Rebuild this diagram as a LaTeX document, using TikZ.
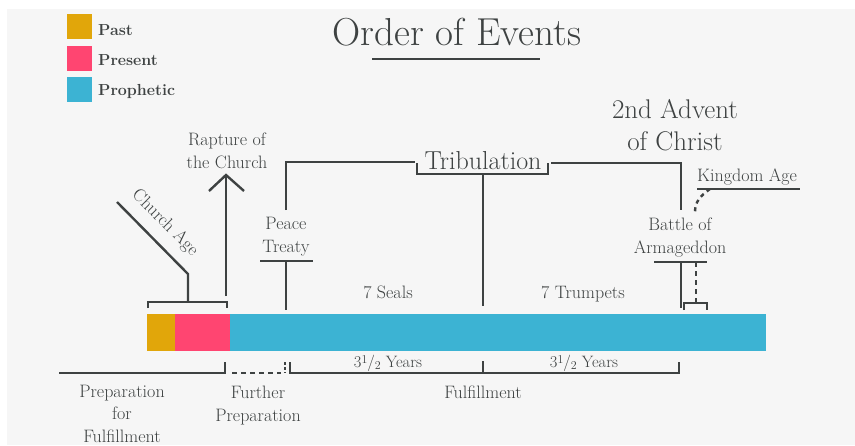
\documentclass[tikz,border=0pt]{standalone}
\usepackage{fontspec}
\usetikzlibrary{positioning}
\definecolor{pastcol}{HTML}{E1A60A}
\definecolor{presentcol}{HTML}{FF4571}
\definecolor{prophcol}{HTML}{3CB3D3}
\definecolor{inkcol}{HTML}{3E4242}
\definecolor{bgcol}{HTML}{F6F6F6}
\tikzset{
  seg/.style={line width=2.4pt, draw=inkcol},
  dseg/.style={seg, dash pattern=on 5pt off 4pt},
  lbl/.style={text=inkcol, font=\fontsize{18}{22.5}\selectfont, align=center, inner sep=0pt},
  keylbl/.style={text=inkcol, font=\fontsize{16}{18}\selectfont\bfseries, inner sep=0pt, anchor=base west},
  biglbl/.style={lbl, font=\fontsize{27}{32}\selectfont},
  keybox/.style={minimum size=25pt, inner sep=0pt, anchor=north west},
}
\newcommand{\halfyr}{3\raisebox{0.55ex}{\fontsize{12}{12}\selectfont 1}/\raisebox{-0.35ex}{\fontsize{12}{12}\selectfont 2} Years}
\begin{document}
\begin{tikzpicture}[x=1pt,y=-1pt]
  \useasboundingbox (0,0) rectangle (855,445);
  \fill[white] (0,0) rectangle (855,445);
  \fill[bgcol] (7,9) rectangle (855,445);

  % Legend
  \node[keybox, fill=pastcol] (kpast) at (67,14) {};
  \node[keybox, fill=presentcol] (kpres) at (67,46) {};
  \node[keybox, fill=prophcol] (kproph) at (67,77) {};
  \node[keylbl] (tpast) at (98,35) {Past};
  \node[keylbl] (tpres) at (98,65) {Present};
  \node[keylbl] (tproph) at (98,95) {Prophetic};

  % Title
  \node[lbl, font=\fontsize{39}{44}\selectfont, anchor=base] (title) at (457,45) {Order of Events};
  \draw[line width=1.6pt, draw=inkcol] (372,59) -- (540,59);

  % Time bar
  \fill[pastcol] (147,314) rectangle (175,351);
  \fill[presentcol] (175,314) rectangle (230,351);
  \fill[prophcol] (230,314) rectangle (766,351);

  % Church Age
  \coordinate (ca1) at (148,308);
  \coordinate (ca2) at (227,308);
  \coordinate (cam) at (188,302);
  \coordinate (cak) at (188,274);
  \coordinate (cae) at (117,202);
  \draw[seg] (ca1) |- (cam) -| (ca2);
  \draw[seg] (cam) -- (cak) -- (cae);
  \node[lbl, rotate=-45] (church) at (165,223) {Church Age};

  % Rapture of the Church
  \coordinate (rap0) at (226,296);
  \coordinate (rap1) at (226,175);
  \draw[seg] (rap0) -- (rap1);
  \draw[seg] (209,191) -- (rap1) -- (244,191);
  \node[lbl, anchor=base] (rapture) at (227,168) {Rapture of\\the Church};

  % Peace Treaty
  \node[lbl, anchor=base] (peace) at (286,252) {Peace\\Treaty};
  \coordinate (pt0) at (286,210);
  \coordinate (pt1) at (415,162);
  \coordinate (ptl) at (260,261);
  \coordinate (ptr) at (313,261);
  \coordinate (ptm) at (286,261);
  \coordinate (ptb) at (286,310);
  \draw[seg] (pt0) |- (pt1);
  \draw[seg] (ptl) -- (ptr);
  \draw[seg] (ptm) -- (ptb);

  % Tribulation
  \node[biglbl, font=\fontsize{26}{30}\selectfont, anchor=base] (trib) at (483,169) {Tribulation};
  \coordinate (tb1) at (417,163);
  \coordinate (tb2) at (548,163);
  \coordinate (tbm) at (483,174);
  \coordinate (tbb) at (483,306);
  \coordinate (tr0) at (551,163);
  \coordinate (tr1) at (681,210);
  \draw[seg] (tb1) |- (tbm) -| (tb2);
  \draw[seg] (tbm) -- (tbb);
  \draw[seg] (tr0) -| (tr1);

  % 2nd Advent of Christ
  \node[biglbl, anchor=base] (advent) at (675,150) {2nd Advent\\of Christ};

  % Kingdom Age
  \node[lbl, anchor=base west] (kingdom) at (697,181) {Kingdom Age};
  \coordinate (kg0) at (697,189);
  \coordinate (kg1) at (800,189);
  \coordinate (kgc) at (710,189);
  \coordinate (kgd) at (695,212);
  \draw[seg] (kg0) -- (kg1);
  \draw[dseg, dash pattern=on 4pt off 4pt] (kgc) .. controls (700,196) and (695,202) .. (kgd);

  % Battle of Armageddon
  \node[lbl, anchor=base] (battle) at (680,253) {Battle of\\Armageddon};
  \coordinate (ba0) at (654,262);
  \coordinate (ba1) at (707,262);
  \coordinate (bam) at (681,262);
  \coordinate (bab) at (681,308);
  \coordinate (bad) at (696,262);
  \coordinate (bdb) at (696,303);
  \coordinate (bk1) at (684,310);
  \coordinate (bk2) at (707,310);
  \draw[seg] (ba0) -- (ba1);
  \draw[seg] (bam) -- (bab);
  \draw[dseg] (bad) -- (bdb);
  \draw[seg, line width=2pt] (bk1) |- (bdb) -| (bk2);

  % Seals and Trumpets
  \node[lbl, anchor=base] (seals) at (388,298) {7 Seals};
  \node[lbl, anchor=base] (trumpets) at (583,298) {7 Trumpets};

  % Below the bar
  \coordinate (pf0) at (59,373);
  \coordinate (pf1) at (225,362);
  \draw[seg] (pf0) -| (pf1);
  \coordinate (fp0) at (232,373);
  \coordinate (fp1) at (281,373);
  \draw[dseg] (fp0) -- (fp1);
  \draw[seg, dash pattern=on 3pt off 2pt] (285,362) -- (285,373);
  \coordinate (fu0) at (290,362);
  \coordinate (fu1) at (679,362);
  \coordinate (fum) at (483,373);
  \coordinate (fut) at (483,361);
  \draw[seg] (fu0) |- (fum) -| (fu1);
  \draw[seg] (fum) -- (fut);
  \node[lbl, font=\fontsize{16.5}{18}\selectfont, anchor=base] (yrs1) at (388,367) {\halfyr};
  \node[lbl, font=\fontsize{16.5}{18}\selectfont, anchor=base] (yrs2) at (584,367) {\halfyr};
  \node[lbl, anchor=base] (fulfil) at (483,398) {Fulfillment};
  \node[lbl, anchor=base] (prep) at (122,442) {Preparation\\for\\Fulfillment};
  \node[lbl, anchor=base] (further) at (258,421) {Further\\Preparation};
\end{tikzpicture}
\end{document}
